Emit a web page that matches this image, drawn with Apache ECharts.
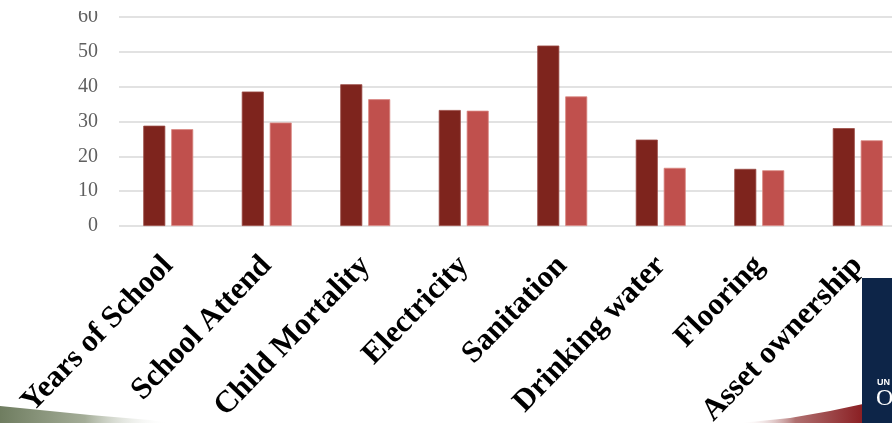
<!DOCTYPE html>
<html>
<head>
<meta charset="utf-8">
<script src="https://cdn.jsdelivr.net/npm/echarts@6/dist/echarts.min.js"></script>
<style>
  html, body { margin: 0; padding: 0; background: #fff; }
  #chart { width: 892px; height: 423px; }
</style>
</head>
<body>
<div id="chart"></div>
<script>
// Deprivation indicators, two groups per indicator
const categories = ['Years of School', 'School Attend', 'Child Mortality', 'Electricity',
                    'Sanitation', 'Drinking water', 'Flooring', 'Asset ownership'];
const seriesA = [28.8, 38.6, 40.7, 33.3, 51.8, 24.8, 16.4, 28.1];
const seriesB = [27.8, 29.7, 36.4, 33.1, 37.2, 16.7, 16.0, 24.6];
const yTicks = { min: 0, max: 60, interval: 10 };

const chart = echarts.init(document.getElementById('chart'), null, { renderer: 'canvas' });

const option = {
  animation: false,
  backgroundColor: '#ffffff',
  // plot area runs a little past the right edge of the canvas
  grid: { left: 119, top: 17, width: 788, height: 209, containLabel: false, outerBoundsMode: 'none' },
  xAxis: {
    type: 'category',
    data: categories,
    axisLine: { show: false },
    axisTick: { show: false },
    axisLabel: {
      interval: 0,
      rotate: 46,
      margin: 35,
      color: '#000000',
      fontFamily: 'Liberation Serif',
      fontWeight: 'bold',
      fontSize: 31
    }
  },
  yAxis: {
    type: 'value',
    min: yTicks.min,
    max: yTicks.max,
    interval: yTicks.interval,
    axisLine: { show: false },
    axisTick: { show: false },
    axisLabel: {
      margin: 21,
      color: '#5f5f5f',
      fontFamily: 'Liberation Serif',
      fontSize: 20
    },
    splitLine: { lineStyle: { color: '#d9d9d9', width: 1.5 } }
  },
  series: [
    {
      name: 'Group A',
      type: 'bar',
      data: seriesA,
      barWidth: 22,
      barGap: '27%',
      itemStyle: { color: '#7e241d', borderColor: '#9a4a44', borderWidth: 0.8 }
    },
    {
      name: 'Group B',
      type: 'bar',
      data: seriesB,
      barWidth: 22,
      itemStyle: { color: '#c0504d', borderColor: '#d98682', borderWidth: 0.8 }
    }
  ],
  graphic: [
    // white band along the top edge
    { type: 'rect', left: 0, top: 0, shape: { width: 892, height: 11 },
      style: { fill: '#ffffff' }, z: 100 },
    // green swoosh, bottom left
    { type: 'polygon', z: 100,
      shape: { points: [[0, 406], [40, 410], [90, 415], [150, 420], [170, 423], [0, 423]] },
      style: { fill: new echarts.graphic.LinearGradient(0, 0, 1, 0, [
        { offset: 0, color: '#6f7d60' }, { offset: 0.5, color: '#a4ad98' }, { offset: 1, color: 'rgba(255,255,255,0)' }
      ]) } },
    // red swoosh, bottom right
    { type: 'polygon', z: 100,
      shape: { points: [[740, 423], [790, 418], [830, 411], [863, 404], [863, 423]] },
      style: { fill: new echarts.graphic.LinearGradient(0, 0, 1, 0, [
        { offset: 0, color: 'rgba(255,255,255,0)' }, { offset: 0.45, color: '#b07070' }, { offset: 1, color: '#8a1e22' }
      ]) } },
    // logo block
    { type: 'rect', z: 101, shape: { x: 862, y: 278, width: 30, height: 145 },
      style: { fill: '#0d2548' } },
    { type: 'text', z: 102, style: { x: 877, y: 378, text: 'UN', fill: '#ffffff',
      font: 'bold 9px "Liberation Sans"' } },
    { type: 'text', z: 102, style: { x: 876, y: 387, text: 'O', fill: '#ffffff',
      font: '24px "Liberation Serif"' } }
  ]
};

chart.setOption(option);
</script>
</body>
</html>
